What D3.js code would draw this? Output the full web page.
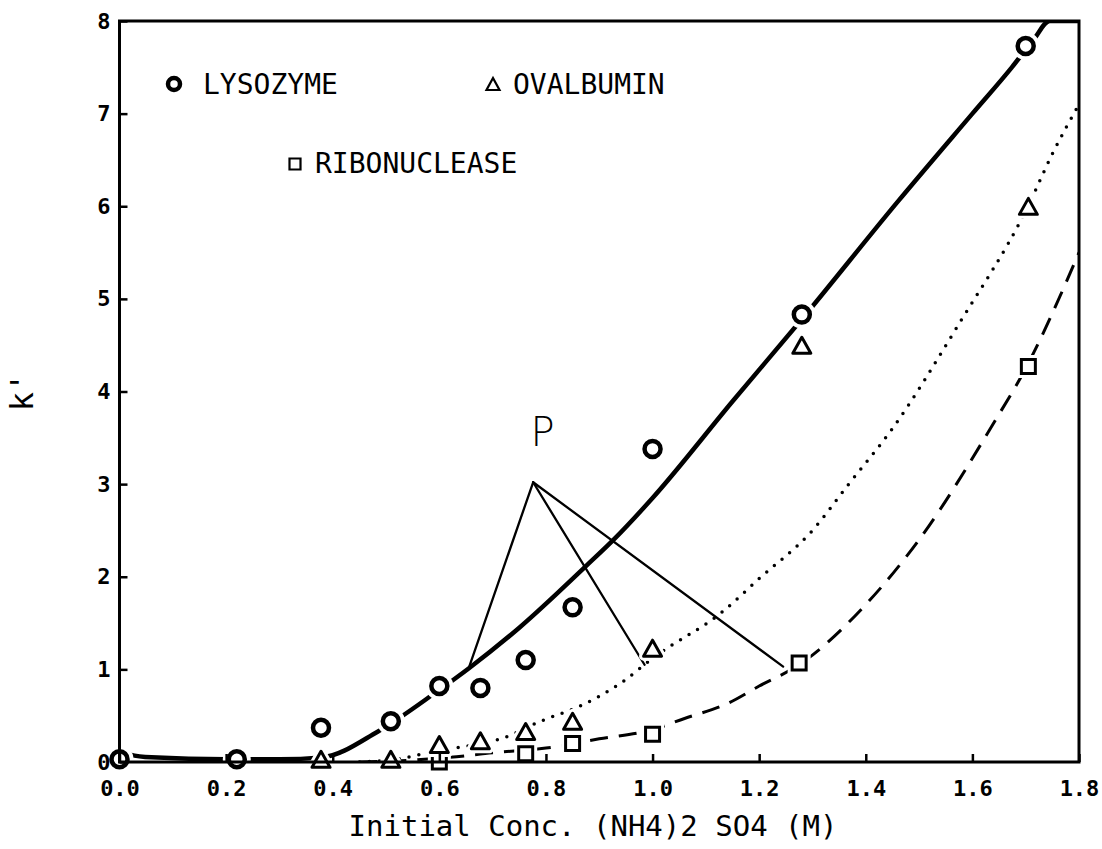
<!DOCTYPE html>
<html><head><meta charset="utf-8">
<script src="https://cdn.jsdelivr.net/npm/d3@7"></script>
<style>body{margin:0;background:#fff}</style>
</head><body>
<svg id="chart" width="1102" height="849"></svg>
<script>
// ---- data ----
const lysoX = [0.0, 0.22, 0.378, 0.509, 0.6, 0.677, 0.762, 0.85, 1.0, 1.28, 1.70];
const lysoY = [0.03, 0.03, 0.37, 0.44, 0.82, 0.80, 1.10, 1.67, 3.38, 4.83, 7.73];
const ovalX = [0.378, 0.509, 0.6, 0.677, 0.762, 0.85, 1.0, 1.28, 1.705];
const ovalY = [0.0, 0.0, 0.16, 0.2, 0.3, 0.41, 1.2, 4.47, 5.97];
const riboX = [0.6, 0.762, 0.85, 1.0, 1.275, 1.705];
const riboY = [0.0, 0.09, 0.2, 0.3, 1.07, 4.27];

// fitted curves (traced)
const lysoFitX = [0.0, 0.02, 0.06, 0.2, 0.3, 0.38, 0.485, 0.593, 0.655, 0.75, 0.876, 0.927, 1.0, 1.151, 1.28, 1.46, 1.6, 1.674, 1.715, 1.745, 1.8];
const lysoFitY = [0.15, 0.08, 0.05, 0.03, 0.03, 0.05, 0.33, 0.75, 1.01, 1.45, 2.12, 2.4, 2.85, 3.9, 4.78, 6.05, 7.0, 7.5, 7.8, 8.0, 8.0];
const ovalFitX = [0.45, 0.52, 0.58, 0.63, 0.72, 0.79, 0.87, 0.94, 1.0, 1.135, 1.2, 1.3, 1.368, 1.45, 1.578, 1.7, 1.753, 1.8];
const ovalFitY = [0.0, 0.03, 0.1, 0.15, 0.26, 0.44, 0.62, 0.85, 1.12, 1.64, 1.98, 2.5, 3.0, 3.6, 4.76, 5.95, 6.6, 7.1];
const riboFitX = [0.45, 0.55, 0.62, 0.7, 0.8, 0.9, 1.0, 1.06, 1.14, 1.2, 1.275, 1.4, 1.5, 1.64, 1.7, 1.8];
const riboFitY = [0.0, 0.02, 0.05, 0.1, 0.15, 0.25, 0.35, 0.47, 0.63, 0.82, 1.05, 1.7, 2.4, 3.66, 4.25, 5.5];

// annotation "P"
const pVertex = [0.776, 3.02];
const pEndsX = [0.655, 0.985, 1.245];
const pEndsY = [1.01, 1.05, 1.03];
const pLabel = "P";
const pLabelPos = [0.771, 3.41];

// axes
const xTicks = [0, 0.2, 0.4, 0.6, 0.8, 1.0, 1.2, 1.4, 1.6, 1.8];
const xTickLabels = ["0.0", "0.2", "0.4", "0.6", "0.8", "1.0", "1.2", "1.4", "1.6", "1.8"];
const yTicks = [0, 1, 2, 3, 4, 5, 6, 7, 8];
const yTickLabels = ["0", "1", "2", "3", "4", "5", "6", "7", "8"];
const xTitle = "Initial Conc. (NH4)2 SO4 (M)";
const yTitle = "k'";
const seriesNames = ["LYSOZYME", "OVALBUMIN", "RIBONUCLEASE"];

// ---- drawing ----
const svg = d3.select("#chart");
const L = 119.5, R = 1079, T = 21, B = 762;
const x = d3.scaleLinear().domain([0, 1.8]).range([L, R]);
const y = d3.scaleLinear().domain([0, 8]).range([B, T]);
const mono = "'DejaVu Sans Mono', 'Liberation Mono', monospace";

const zip = (a, b) => a.map((v, i) => [v, b[i]]);
const line = d3.line().x(d => x(d[0])).y(d => y(d[1])).curve(d3.curveMonotoneX);

const plot = svg.append("g");
plot.append("defs").append("clipPath").attr("id", "clip")
  .append("rect").attr("x", L).attr("y", T).attr("width", R - L).attr("height", B - T);

const curves = plot.append("g").attr("clip-path", "url(#clip)");
curves.append("path").datum(zip(lysoFitX, lysoFitY)).attr("d", line)
  .attr("fill", "none").attr("stroke", "#000").attr("stroke-width", 4.5).attr("stroke-linejoin", "round");
curves.append("path").datum(zip(ovalFitX, ovalFitY)).attr("d", line)
  .attr("fill", "none").attr("stroke", "#000").attr("stroke-width", 3.5)
  .attr("stroke-linecap", "round").attr("stroke-dasharray", "0,10");
curves.append("path").datum(zip(riboFitX, riboFitY)).attr("d", line)
  .attr("fill", "none").attr("stroke", "#000").attr("stroke-width", 3)
  .attr("stroke-dasharray", "18,11");

// P annotation lines
const pg = plot.append("g");
pEndsX.forEach((ex, i) => {
  pg.append("line").attr("x1", x(pVertex[0])).attr("y1", y(pVertex[1]))
    .attr("x2", x(ex)).attr("y2", y(pEndsY[i]))
    .attr("stroke", "#000").attr("stroke-width", 2.3).attr("stroke-linecap", "round");
});
pg.append("text").attr("x", x(pLabelPos[0])).attr("y", y(pLabelPos[1]))
  .attr("font-family", "'DejaVu Sans', sans-serif").attr("font-size", 40)
  .attr("font-weight", 300).text(pLabel);

// marker shapes
const triPath = (w, h) => `M0,${-h * 2 / 3}L${w / 2},${h / 3}L${-w / 2},${h / 3}Z`;
const sqPath = s => `M${-s / 2},${-s / 2}h${s}v${s}h${-s}Z`;

function drawMarkers(xs, ys, kind) {
  const g = plot.append("g");
  const pts = zip(xs, ys);
  const shape = (sel, halo) => {
    if (kind === "circle") {
      sel.append("circle").attr("r", 8).attr("fill", "#fff")
        .attr("stroke", halo ? "#fff" : "#000").attr("stroke-width", halo ? 12 : 4.5);
    } else if (kind === "tri") {
      sel.append("path").attr("d", triPath(18, 16)).attr("fill", halo ? "#fff" : "none")
        .attr("stroke", halo ? "#fff" : "#000").attr("stroke-width", halo ? 9 : 3).attr("stroke-linejoin", "round");
    } else {
      sel.append("path").attr("d", sqPath(14)).attr("fill", halo ? "#fff" : "none")
        .attr("stroke", halo ? "#fff" : "#000").attr("stroke-width", halo ? 9 : 3);
    }
  };
  const halos = g.selectAll("g.h").data(pts).join("g").attr("class", "h")
    .attr("transform", d => `translate(${x(d[0])},${y(d[1])})`);
  shape(halos, true);
  const marks = g.selectAll("g.m").data(pts).join("g").attr("class", "m")
    .attr("transform", d => `translate(${x(d[0])},${y(d[1])})`);
  shape(marks, false);
}
drawMarkers(riboX, riboY, "sq");
drawMarkers(ovalX, ovalY, "tri");
drawMarkers(lysoX, lysoY, "circle");

// frame
svg.append("rect").attr("x", L).attr("y", T).attr("width", R - L).attr("height", B - T)
  .attr("fill", "none").attr("stroke", "#000").attr("stroke-width", 3);

// axes
const xAxis = d3.axisBottom(x).tickValues(xTicks)
  .tickFormat((d, i) => xTickLabels[i]).tickSizeInner(-8).tickSizeOuter(0).tickPadding(18);
const gx = svg.append("g").attr("transform", `translate(0,${B})`).call(xAxis);
gx.select(".domain").remove();
gx.selectAll(".tick line").attr("stroke-width", 2.5);
gx.selectAll(".tick text").attr("font-family", mono).attr("font-size", 22)
  .attr("font-weight", "bold").attr("fill", "#000");

const yAxis = d3.axisLeft(y).tickValues(yTicks)
  .tickFormat((d, i) => yTickLabels[i]).tickSizeInner(-8).tickSizeOuter(0).tickPadding(9);
const gy = svg.append("g").attr("transform", `translate(${L},0)`).call(yAxis);
gy.select(".domain").remove();
gy.selectAll(".tick line").attr("stroke-width", 2.5);
gy.selectAll(".tick text").attr("font-family", mono).attr("font-size", 22)
  .attr("font-weight", "bold").attr("fill", "#000");

// axis titles
svg.append("text").attr("x", 593).attr("y", 836).attr("text-anchor", "middle")
  .attr("font-family", mono).attr("font-size", 29).text(xTitle);
svg.append("text").attr("transform", "translate(33,392) rotate(-90)").attr("text-anchor", "middle")
  .attr("font-family", mono).attr("font-size", 32).text(yTitle);

// legend
const lg = svg.append("g");
lg.append("circle").attr("cx", 174).attr("cy", 84).attr("r", 6)
  .attr("fill", "#fff").attr("stroke", "#000").attr("stroke-width", 4.5);
lg.append("text").attr("x", 203).attr("y", 94).attr("font-family", mono).attr("font-size", 28).text(seriesNames[0]);
lg.append("path").attr("transform", "translate(493,86)").attr("d", triPath(13, 12))
  .attr("fill", "none").attr("stroke", "#000").attr("stroke-width", 2.2);
lg.append("text").attr("x", 513).attr("y", 94).attr("font-family", mono).attr("font-size", 28).text(seriesNames[1]);
lg.append("path").attr("transform", "translate(295,164)").attr("d", sqPath(11))
  .attr("fill", "none").attr("stroke", "#000").attr("stroke-width", 2.2);
lg.append("text").attr("x", 315).attr("y", 173).attr("font-family", mono).attr("font-size", 28).text(seriesNames[2]);
</script>
</body></html>
